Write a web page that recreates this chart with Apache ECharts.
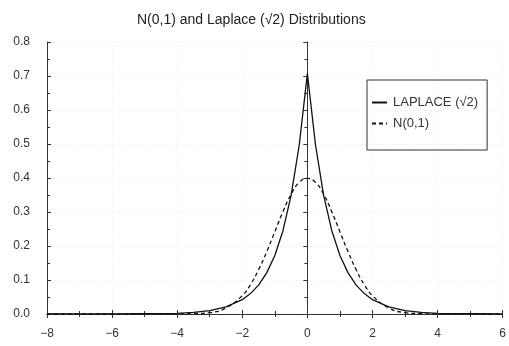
<!DOCTYPE html>
<html>
<head>
<meta charset="utf-8">
<script src="https://cdn.jsdelivr.net/npm/echarts@6/dist/echarts.min.js"></script>
<style>
  html, body { margin: 0; padding: 0; background: #fff; }
  #main { width: 509px; height: 346px; }
</style>
</head>
<body>
<div id="main"></div>
<script>
const xs = [-8, -6, -5, -4, -3.5, -3, -2.5, -2, -1.75, -1.5, -1.25, -1, -0.75, -0.5, -0.25, 0,
            0.25, 0.5, 0.75, 1, 1.25, 1.5, 1.75, 2, 2.5, 3, 3.5, 4, 5, 6];
// Laplace (sqrt 2) curve, solid
const laplace = [0.000, 0.000, 0.001, 0.002, 0.005, 0.010, 0.021, 0.042, 0.060, 0.085, 0.121, 0.172, 0.245, 0.349, 0.497, 0.707,
                 0.497, 0.349, 0.245, 0.172, 0.121, 0.085, 0.060, 0.042, 0.021, 0.010, 0.005, 0.002, 0.001, 0.000];
// N(0,1) curve, dashed
const normal = [0.000, 0.000, 0.000, 0.000, 0.001, 0.004, 0.018, 0.054, 0.086, 0.130, 0.183, 0.242, 0.301, 0.352, 0.387, 0.399,
                0.387, 0.352, 0.301, 0.242, 0.183, 0.130, 0.086, 0.054, 0.018, 0.004, 0.001, 0.000, 0.000, 0.000];

const textColor = '#333';
const font = 'Liberation Sans, Arial, sans-serif';

const chart = echarts.init(document.getElementById('main'));

// plain axes for the top and right side of the frame
function frameAxis(pos, isX) {
  const ax = {
    type: 'value',
    position: pos,
    axisLine: { show: true, lineStyle: { color: '#333', width: 1 } },
    axisTick: { show: true, inside: true, length: 4, lineStyle: { color: '#333' } },
    minorTick: { show: true, splitNumber: 2, length: 3, lineStyle: { color: '#333' } },
    axisLabel: { show: false },
    splitLine: { show: false }
  };
  if (isX) { ax.min = -8; ax.max = 6; ax.interval = 2; }
  else { ax.min = 0; ax.max = 0.8; ax.interval = 0.1; }
  return ax;
}

const option = {
  animation: false,
  backgroundColor: '#fff',
  title: {
    text: 'N(0,1) and Laplace (\u221A2) Distributions',
    left: 132,
    top: 8,
    textStyle: { color: '#222', fontSize: 14, fontWeight: 'normal', fontFamily: font }
  },
  grid: { left: 47, right: 3, top: 42, bottom: 32 },
  legend: {
    orient: 'vertical',
    left: 367,
    top: 80,
    padding: [16, 9, 20, 5],
    itemWidth: 15,
    itemHeight: 2,
    itemGap: 8,
    borderColor: '#333',
    borderWidth: 1,
    borderRadius: 0,
    textStyle: { color: textColor, fontSize: 13, fontFamily: font, padding: [0, 0, 0, 1] },
    data: [
      { name: 'LAPLACE (\u221A2)', icon: 'path://M0,0h15v2h-15z', itemStyle: { color: '#111' } },
      { name: 'N(0,1)', icon: 'path://M0,0h4v2h-4z M7,0h4v2h-4z M14,0h1v2h-1z', itemStyle: { color: '#111' } }
    ]
  },
  xAxis: [
    {
      type: 'value',
      min: -8, max: 6, interval: 2,
      axisLine: { show: true, onZero: false, lineStyle: { color: '#333' } },
      axisTick: { show: true, inside: true, length: 4, lineStyle: { color: '#333' } },
      minorTick: { show: true, splitNumber: 2, length: 3, lineStyle: { color: '#333' } },
      axisLabel: { color: textColor, fontSize: 12, fontFamily: font, margin: 14,
                   formatter: v => v < 0 ? '\u2212' + Math.abs(v) : String(v) },
      splitLine: { show: true, lineStyle: { color: '#eeeeee', type: [1, 2] } }
    },
    frameAxis('top', true)
  ],
  yAxis: [
    {
      type: 'value',
      min: 0, max: 0.8, interval: 0.1,
      axisLine: { show: true, onZero: false, lineStyle: { color: '#333' } },
      axisTick: { show: true, inside: true, length: 4, lineStyle: { color: '#333' } },
      minorTick: { show: true, splitNumber: 2, length: 3, lineStyle: { color: '#333' } },
      axisLabel: { color: textColor, fontSize: 12, fontFamily: font, margin: 17,
                   formatter: v => v.toFixed(1) },
      splitLine: { show: true, lineStyle: { color: '#eeeeee', type: [1, 2] } }
    },
    frameAxis('right', false)
  ],
  series: [
    {
      name: 'LAPLACE (\u221A2)',
      type: 'line',
      symbol: 'none',
      data: xs.map((x, i) => [x, laplace[i]]),
      lineStyle: { color: '#111', width: 1.3 },
      itemStyle: { color: '#111' }
    },
    {
      name: 'N(0,1)',
      type: 'line',
      symbol: 'none',
      smooth: true,
      data: xs.map((x, i) => [x, normal[i]]),
      lineStyle: { color: '#111', width: 1.3, type: [4, 3] },
      itemStyle: { color: '#111' }
    }
  ]
};

chart.setOption(option);
</script>
</body>
</html>
